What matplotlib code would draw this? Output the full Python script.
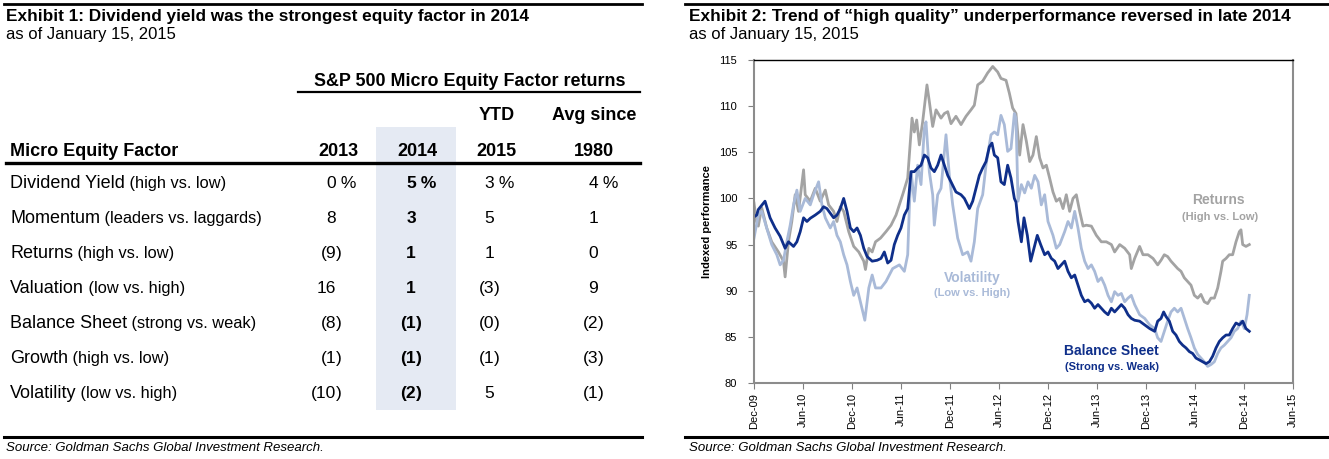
import matplotlib
matplotlib.use('Agg')
import matplotlib.pyplot as plt
from matplotlib.patches import Rectangle

plt.rcParams['font.family'] = ['Liberation Sans', 'DejaVu Sans']

#~~~~~~~~~~~~~~~~~~
# TABLE DATA (Exhibit 1)
#~~~~~~~~~~~~~~~~~~
factors = ['Dividend Yield', 'Momentum', 'Returns', 'Valuation',
           'Balance Sheet', 'Growth', 'Volatility']
factor_notes = ['(high vs. low)', '(leaders vs. laggards)', '(high vs. low)',
                '(low vs. high)', '(strong vs. weak)', '(high vs. low)',
                '(low vs. high)']
col_2013 = ['0 %', '8', '(9)', '16', '(8)', '(1)', '(10)']
col_2014 = ['5 %', '3', '1', '1', '(1)', '(1)', '(2)']
col_2015 = ['3 %', '5', '1', '(3)', '(0)', '(1)', '5']
col_1980 = ['4 %', '1', '0', '9', '(2)', '(3)', '(1)']

#~~~~~~~~~~~~~~~~~~
# CHART DATA (Exhibit 2), x = months since Dec-09
#~~~~~~~~~~~~~~~~~~
ret_m = [0.0, 0.3, 0.53, 0.94, 1.56, 2.17, 2.99, 3.61, 3.81, 4.22, 4.63, 5.04, 5.45, 6.07, 6.27,
         6.89, 7.5, 8.11, 8.73, 9.14, 9.75, 10.16, 10.57, 10.98, 11.6, 12.21, 12.83, 13.44, 13.65,
         14.06, 14.47, 14.88, 15.49, 16.16, 16.78, 17.39, 17.8, 18.2, 18.82, 19.02, 19.35, 19.63,
         19.92, 20.25, 20.65, 20.98, 21.18, 21.47, 21.88, 22.29, 22.9, 23.31, 23.72, 24.12, 24.73,
         25.35, 25.96, 26.57, 26.98, 27.39, 28.0, 28.61, 29.23, 29.84, 30.24, 30.86, 31.27, 31.67,
         32.08, 32.53, 32.94, 33.35, 33.76, 34.16, 34.57, 34.98, 35.39, 35.8, 36.2, 36.61, 37.02,
         37.43, 37.84, 38.24, 38.65, 39.06, 39.47, 39.88, 40.29, 40.69, 41.31, 41.92, 42.53, 43.14,
         43.76, 44.16, 44.78, 45.39, 46.0, 46.2, 46.61, 47.22, 47.63, 48.24, 48.86, 49.43, 49.84,
         50.24, 50.65, 51.06, 51.47, 51.88, 52.29, 52.69, 53.1, 53.51, 53.92, 54.33, 54.73, 55.14,
         55.55, 55.96, 56.37, 56.78, 57.18, 57.39, 57.8, 58.2, 58.61, 59.02, 59.43, 59.63, 59.84,
         60.24, 60.65]
ret_v = [99.5, 97.5, 97.0, 99.0, 96.8, 95.3, 94.2, 93.2, 91.5, 95.3, 97.5, 100.4, 98.6, 103.1, 100.4,
         99.7, 101.1, 99.7, 100.9, 99.3, 98.6, 97.5, 99.1, 98.6, 96.4, 94.8, 94.2, 93.2, 92.3,
         94.6, 94.2, 95.3, 95.7, 96.4, 97.1, 98.2, 99.3, 100.4, 102.2, 104.7, 108.7, 107.2,
         108.5, 105.8, 108.3, 110.8, 112.3, 110.5, 107.8, 109.6, 108.7, 109.2, 109.4, 108.1, 108.9,
         108.0, 108.9, 109.6, 110.1, 112.3, 112.7, 113.6, 114.3, 113.7, 113.0, 112.8, 111.4, 109.8,
         109.2, 104.7, 108.0, 106.2, 104.0, 104.7, 106.7, 104.4, 103.3, 103.6, 102.2, 100.7, 99.7,
         100.0, 98.9, 100.4, 98.6, 100.0, 100.4, 98.6, 97.0, 97.1, 97.0, 96.0, 95.3, 95.3,
         95.0, 94.2, 95.0, 94.6, 93.9, 92.4, 93.5, 94.8, 93.9, 93.9, 93.5, 92.8, 93.3,
         93.9, 93.7, 93.2, 92.8, 92.4, 92.1, 91.4, 91.0, 90.6, 89.5, 89.2, 89.6, 88.8,
         88.6, 89.2, 89.2, 90.3, 92.1, 93.2, 93.5, 93.9, 93.9, 95.3, 96.4, 96.6, 95.0,
         94.8, 95.0]

vol_m = [0.0, 0.53, 0.94, 1.56, 2.17, 2.79, 3.2, 3.61, 4.02, 4.43, 4.84, 5.25, 5.66, 6.27, 6.89,
         7.3, 7.91, 8.32, 8.73, 9.34, 9.75, 10.16, 10.57, 10.98, 11.39, 11.8, 12.21, 12.62, 13.03,
         13.57, 14.06, 14.47, 14.88, 15.55, 16.16, 16.98, 17.8, 18.41, 18.82, 19.02, 19.23, 19.63,
         20.04, 20.45, 20.86, 21.06, 21.47, 21.88, 22.08, 22.49, 22.9, 23.51, 23.92, 24.33, 24.94,
         25.55, 26.16, 26.57, 26.98, 27.39, 28.0, 28.41, 29.02, 29.43, 29.84, 30.24, 30.65, 31.06,
         31.47, 31.88, 32.08, 32.33, 32.74, 33.14, 33.55, 33.96, 34.37, 34.78, 35.18, 35.59, 36.0,
         36.61, 37.02, 37.43, 38.04, 38.45, 38.86, 39.27, 39.67, 40.08, 40.49, 40.9, 41.31, 41.71,
         42.12, 42.53, 42.94, 43.35, 43.76, 44.16, 44.57, 44.98, 45.39, 45.8, 46.2, 46.61, 47.22,
         47.84, 48.45, 49.06, 49.43, 49.84, 50.24, 50.65, 51.06, 51.47, 51.88, 52.29, 52.69, 53.1,
         53.51, 53.92, 54.33, 54.73, 55.14, 55.55, 55.96, 56.37, 56.78, 57.18, 57.59, 58.0, 58.41,
         58.82, 59.22, 59.63, 60.04, 60.37, 60.65]
vol_v = [95.7, 98.2, 98.6, 96.8, 95.0, 93.9, 92.8, 93.3, 95.3, 97.1, 99.3, 100.9, 98.6, 100.0, 99.3,
         100.4, 101.8, 99.3, 97.9, 96.8, 97.5, 96.0, 95.3, 93.9, 92.8, 91.0, 89.5, 90.3, 88.8,
         86.8, 90.3, 91.7, 90.3, 90.3, 91.0, 92.4, 92.8, 92.1, 93.9, 98.9, 102.9, 99.7,
         103.6, 101.5, 107.6, 108.3, 102.9, 100.4, 97.1, 100.4, 101.1, 106.9, 102.5, 99.3, 95.7,
         93.9, 94.2, 93.2, 95.3, 98.9, 100.4, 103.6, 106.9, 107.2, 106.9, 109.0, 108.0, 105.1,
         105.4, 109.2, 108.7, 99.7, 101.5, 100.6, 101.8, 101.1, 102.5, 101.8, 99.3, 100.4, 97.5,
         96.0, 94.6, 95.0, 96.4, 97.5, 96.8, 98.6, 96.8, 94.6, 93.2, 92.4, 92.8, 92.1,
         91.0, 91.4, 90.6, 89.5, 88.8, 89.9, 89.5, 89.7, 88.8, 89.2, 89.5, 88.5, 87.4,
         87.0, 86.3, 85.9, 84.9, 84.5, 85.6, 86.7, 87.7, 88.1, 87.7, 88.1, 87.0, 85.9,
         84.9, 83.8, 83.1, 82.7, 82.3, 81.8, 82.0, 82.3, 83.2, 83.8, 84.1, 84.5, 84.9,
         85.6, 85.9, 86.7, 85.9, 87.4, 89.5]

bal_m = [0.0, 0.33, 0.53, 1.35, 1.97, 2.58, 3.2, 3.81, 4.22, 4.84, 5.25, 5.66, 6.07, 6.48, 6.89,
         7.5, 8.11, 8.52, 8.93, 9.34, 9.75, 10.16, 10.57, 10.98, 11.39, 11.8, 12.21, 12.62, 13.03,
         13.44, 13.85, 14.47, 15.08, 15.55, 15.96, 16.37, 16.78, 17.18, 17.59, 18.0, 18.41, 18.82,
         19.23, 19.63, 20.04, 20.45, 20.86, 21.27, 21.67, 22.08, 22.49, 22.9, 23.31, 23.72, 24.12,
         24.73, 25.35, 25.76, 26.37, 26.78, 27.18, 27.59, 28.0, 28.41, 28.82, 29.14, 29.43, 29.84,
         30.24, 30.65, 31.06, 31.47, 31.88, 32.08, 32.33, 32.74, 33.06, 33.47, 33.88, 34.29, 34.69,
         35.1, 35.59, 36.0, 36.41, 36.82, 37.22, 37.63, 38.04, 38.45, 38.86, 39.27, 39.67, 40.08,
         40.49, 40.9, 41.31, 41.71, 42.12, 42.53, 42.94, 43.35, 43.76, 44.16, 44.57, 44.98, 45.39,
         45.8, 46.2, 46.61, 47.22, 47.84, 48.45, 49.06, 49.43, 49.84, 50.16, 50.45, 50.86, 51.27,
         51.67, 52.08, 52.49, 52.9, 53.31, 53.71, 54.12, 54.53, 54.94, 55.35, 55.76, 56.16, 56.57,
         56.98, 57.39, 57.8, 58.2, 58.61, 59.02, 59.43, 59.84, 60.24, 60.65]
bal_v = [98.0, 98.2, 98.8, 99.7, 97.9, 96.8, 95.9, 94.6, 95.3, 94.8, 95.3, 96.4, 97.9, 97.5, 97.85,
         98.2, 98.6, 99.1, 98.9, 98.4, 97.9, 98.2, 98.9, 100.0, 98.6, 96.8, 96.4, 96.8, 96.0,
         94.6, 93.7, 93.2, 93.3, 93.5, 94.2, 93.0, 93.3, 95.0, 96.0, 96.8, 98.2, 98.9,
         102.9, 102.9, 103.3, 103.6, 104.7, 104.4, 103.3, 102.9, 103.6, 104.7, 103.6, 102.5, 101.8,
         100.7, 100.4, 100.0, 98.9, 99.7, 101.1, 102.5, 103.3, 104.0, 105.6, 106.0, 104.7, 104.4,
         101.8, 101.5, 103.6, 102.2, 100.0, 99.6, 97.5, 95.3, 97.9, 96.0, 93.2, 94.6, 96.0,
         95.0, 93.9, 94.2, 93.5, 93.2, 92.4, 92.8, 93.2, 92.1, 91.4, 91.7, 90.6, 89.5,
         88.8, 89.0, 88.65, 88.1, 88.5, 88.1, 87.7, 87.4, 88.1, 87.7, 88.1, 88.5, 88.1,
         87.4, 87.0, 86.8, 86.7, 86.3, 85.9, 85.6, 86.7, 87.0, 87.7, 87.2, 86.7, 85.6,
         85.2, 84.5, 84.1, 83.8, 83.4, 83.2, 82.7, 82.5, 82.3, 82.1, 82.3, 82.9, 83.8,
         84.5, 84.9, 85.2, 85.2, 85.9, 86.5, 86.3, 86.7, 85.9, 85.6]

tick_labels = ['Dec-09', 'Jun-10', 'Dec-10', 'Jun-11', 'Dec-11', 'Jun-12',
               'Dec-12', 'Jun-13', 'Dec-13', 'Jun-14', 'Dec-14', 'Jun-15']

#~~~~~~~~~~
# PLOTTING
#~~~~~~~~~~
W, H = 1329, 459
fig = plt.figure(figsize=(W / 100, H / 100), dpi=100)
bg = fig.add_axes([0, 0, 1, 1])
bg.set_xlim(0, W)
bg.set_ylim(H, 0)
bg.axis('off')

GRAY = '#a3a3a3'
LBLUE = '#a9bad8'
NAVY = '#0f2f8a'

# rules
for x0, x1 in [(4, 642), (685, 1329)]:
    bg.plot([x0, x1], [4, 4], color='black', lw=2)
    bg.plot([x0, x1], [437, 437], color='black', lw=2.2)

# ---- Exhibit 1 ----
bg.text(6, 16, 'Exhibit 1: Dividend yield was the strongest equity factor in 2014',
        fontsize=12.4, fontweight='bold', va='center')
bg.text(6, 34, 'as of January 15, 2015', fontsize=12, va='center')
bg.add_patch(Rectangle((376, 127), 80, 283, color='#e5eaf3', lw=0))

bg.text(470, 82, 'S&P 500 Micro Equity Factor returns', fontsize=12.9,
        fontweight='bold', ha='center', va='center')
bg.plot([298, 640], [92, 92], color='black', lw=1.6)
bg.text(497, 116, 'YTD', fontsize=13, fontweight='bold', ha='center', va='center')
bg.text(594, 116, 'Avg since', fontsize=13, fontweight='bold', ha='center', va='center')
bg.text(10, 152, 'Micro Equity Factor', fontsize=13, fontweight='bold', va='center')
for cx, lab in zip([338, 417, 496, 594], ['2013', '2014', '2015', '1980']):
    bg.text(cx, 152, lab, fontsize=13, fontweight='bold', ha='center', va='center')
bg.plot([6, 640], [163, 163], color='black', lw=2.4)


def put_num(x, y, s, bold):
    w = 'bold' if bold else 'normal'
    if s.endswith('%'):
        core, tail = s[:-2], ' %'
    elif s.startswith('('):
        core, tail = s[:-1], ')'
    else:
        core, tail = s, ''
    bg.text(x, y, core, fontsize=12.5, fontweight=w, ha='right', va='baseline')
    if tail:
        bg.text(x, y, tail, fontsize=12.5, fontweight=w, ha='left', va='baseline')


for i in range(len(factors)):
    yb = 182 + 35 * i + 6
    t = bg.text(10, yb, factors[i], fontsize=13, va='baseline')
    bg.annotate(' ' + factor_notes[i], xy=(1, yb), xycoords=(t, 'data'),
                fontsize=11.8, va='baseline', ha='left')
    put_num(336, yb, col_2013[i], False)
    put_num(416, yb, col_2014[i], True)
    put_num(494, yb, col_2015[i], False)
    put_num(598, yb, col_1980[i], False)

bg.text(6, 448, 'Source: Goldman Sachs Global Investment Research.', fontsize=9.5,
        style='italic', va='center')

# ---- Exhibit 2 ----
bg.text(689, 16, 'Exhibit 2: Trend of \u201chigh quality\u201d underperformance reversed in late 2014',
        fontsize=12.4, fontweight='bold', va='center')
bg.text(689, 34, 'as of January 15, 2015', fontsize=12, va='center')
bg.text(689, 448, 'Source: Goldman Sachs Global Investment Research.', fontsize=9.5,
        style='italic', va='center')

ax = fig.add_axes([754 / W, 1 - 383 / H, 539 / W, 323 / H])
ax.plot(ret_m, ret_v, color=GRAY, lw=2)
ax.plot(vol_m, vol_v, color=LBLUE, lw=2)
ax.plot(bal_m, bal_v, color=NAVY, lw=2)

ax.set_xlim(0, 66)
ax.set_ylim(80, 115)
ax.set_xticks(range(0, 67, 6))
ax.set_xticklabels(tick_labels, rotation=90, fontsize=8)
ax.set_yticks(range(80, 116, 5))
ax.tick_params(axis='y', labelsize=8, length=4, color='#808080', pad=8)
ax.tick_params(axis='x', length=4, color='#808080', pad=3)
ax.set_ylabel('Indexed performance', fontsize=8, fontweight='bold', labelpad=5)
for side in ['left', 'bottom', 'right']:
    ax.spines[side].set_color('#8c8c8c')
    ax.spines[side].set_linewidth(1.5)
ax.spines['top'].set_color('black')
ax.spines['top'].set_linewidth(1)

ax.text(56.9, 99.8, 'Returns', color=GRAY, fontsize=10, fontweight='bold', ha='center', va='center')
ax.text(57.1, 98.0, '(High vs. Low)', color=GRAY, fontsize=8, fontweight='bold', ha='center', va='center')
ax.text(26.7, 91.4, 'Volatility', color=LBLUE, fontsize=10, fontweight='bold', ha='center', va='center')
ax.text(26.7, 89.8, '(Low vs. High)', color=LBLUE, fontsize=8, fontweight='bold', ha='center', va='center')
ax.text(43.8, 83.5, 'Balance Sheet', color=NAVY, fontsize=10, fontweight='bold', ha='center', va='center')
ax.text(43.8, 81.75, '(Strong vs. Weak)', color=NAVY, fontsize=8, fontweight='bold', ha='center', va='center')

plt.savefig('out.png', dpi=100)
